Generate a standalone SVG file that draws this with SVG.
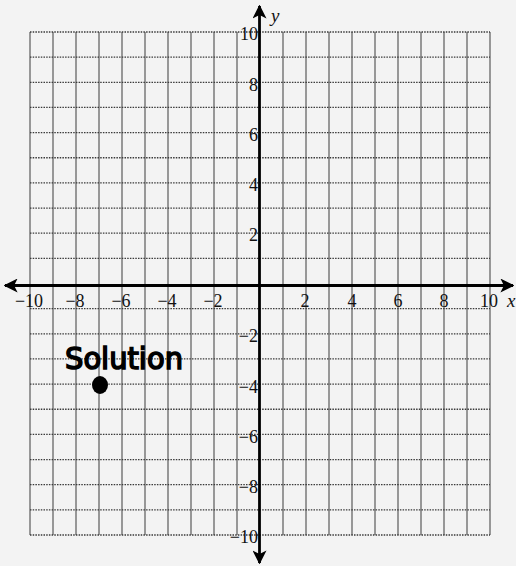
<svg xmlns="http://www.w3.org/2000/svg" width="516" height="566" viewBox="0 0 516 566">
<defs>
<style>
.vg{stroke:#5a5a5a;stroke-width:1.2;fill:none}
.hg{stroke:#3a3a3a;stroke-width:1.3;stroke-dasharray:1.5 1.2;fill:none}
.ax{stroke:#000;stroke-width:2.8;fill:none}
.lb{font-family:"Liberation Serif","Times New Roman",serif;font-size:18px;fill:#111}
.yl{text-anchor:end}
.xl{text-anchor:middle}
.var{font-family:"Liberation Serif","Times New Roman",serif;font-size:19px;font-style:italic;fill:#111}
</style>
<marker id="ah" viewBox="0 0 10 10" refX="9" refY="5" markerWidth="5" markerHeight="5" orient="auto" markerUnits="strokeWidth">
<path d="M0,0 L10,5 L0,10 L2.5,5 Z" fill="#000"/>
</marker>
</defs>
<rect width="516" height="566" fill="#f3f3f3"/>
<g id="grid">
<g id="vertical-lines" class="vg">
<line x1="30" y1="32" x2="30" y2="535"/><line x1="53" y1="32" x2="53" y2="535"/><line x1="76" y1="32" x2="76" y2="535"/><line x1="99" y1="32" x2="99" y2="535"/><line x1="122" y1="32" x2="122" y2="535"/><line x1="145" y1="32" x2="145" y2="535"/><line x1="168" y1="32" x2="168" y2="535"/><line x1="191" y1="32" x2="191" y2="535"/><line x1="214" y1="32" x2="214" y2="535"/><line x1="237" y1="32" x2="237" y2="535"/><line x1="283" y1="32" x2="283" y2="535"/><line x1="306" y1="32" x2="306" y2="535"/><line x1="329" y1="32" x2="329" y2="535"/><line x1="352" y1="32" x2="352" y2="535"/><line x1="375" y1="32" x2="375" y2="535"/><line x1="398" y1="32" x2="398" y2="535"/><line x1="421" y1="32" x2="421" y2="535"/><line x1="444" y1="32" x2="444" y2="535"/><line x1="467" y1="32" x2="467" y2="535"/><line x1="490" y1="32" x2="490" y2="535"/>
</g>
<g id="horizontal-lines" class="hg">
<line x1="30" y1="32" x2="490" y2="32"/><line x1="30" y1="57.15" x2="490" y2="57.15"/><line x1="30" y1="82.3" x2="490" y2="82.3"/><line x1="30" y1="107.45" x2="490" y2="107.45"/><line x1="30" y1="132.6" x2="490" y2="132.6"/><line x1="30" y1="157.75" x2="490" y2="157.75"/><line x1="30" y1="182.9" x2="490" y2="182.9"/><line x1="30" y1="208.05" x2="490" y2="208.05"/><line x1="30" y1="233.2" x2="490" y2="233.2"/><line x1="30" y1="258.35" x2="490" y2="258.35"/><line x1="30" y1="308.65" x2="490" y2="308.65"/><line x1="30" y1="333.8" x2="490" y2="333.8"/><line x1="30" y1="358.95" x2="490" y2="358.95"/><line x1="30" y1="384.1" x2="490" y2="384.1"/><line x1="30" y1="409.25" x2="490" y2="409.25"/><line x1="30" y1="434.4" x2="490" y2="434.4"/><line x1="30" y1="459.55" x2="490" y2="459.55"/><line x1="30" y1="484.7" x2="490" y2="484.7"/><line x1="30" y1="509.85" x2="490" y2="509.85"/><line x1="30" y1="535" x2="490" y2="535"/>
</g>
</g>
<g id="axes">
<line id="x-axis-left" class="ax" x1="260" y1="285.5" x2="5" y2="285.5" marker-end="url(#ah)"/>
<line id="x-axis-right" class="ax" x1="260" y1="285.5" x2="513" y2="285.5" marker-end="url(#ah)"/>
<line id="y-axis-up" class="ax" x1="259.5" y1="285.5" x2="259.5" y2="6" marker-end="url(#ah)"/>
<line id="y-axis-down" class="ax" x1="259.5" y1="285.5" x2="259.5" y2="563" marker-end="url(#ah)"/>
</g>
<g id="axis-names">
<text class="var" x="271" y="22">y</text>
<text class="var" x="507" y="307">x</text>
</g>
<g id="y-labels" class="lb yl">
<text x="258" y="40">10</text>
<text x="258" y="91">8</text>
<text x="258" y="141">6</text>
<text x="258" y="191">4</text>
<text x="258" y="241">2</text>
<text x="258" y="342">−2</text>
<text x="258" y="393">−4</text>
<text x="258" y="443">−6</text>
<text x="258" y="493">−8</text>
<text x="258" y="543">−10</text>
</g>
<g id="x-labels" class="lb xl">
<text x="29" y="307">−10</text>
<text x="75" y="307">−8</text>
<text x="121" y="307">−6</text>
<text x="167" y="307">−4</text>
<text x="213" y="307">−2</text>
<text x="305" y="307">2</text>
<text x="352" y="307">4</text>
<text x="398" y="307">6</text>
<text x="444" y="307">8</text>
<text x="489" y="307">10</text>
</g>
<g id="solution">
<text x="65" y="369" font-family="DejaVu Sans, sans-serif" font-size="30" fill="#000" stroke="#000" stroke-width="1.6" textLength="118" lengthAdjust="spacingAndGlyphs">Solution</text>
<ellipse cx="100" cy="385" rx="8" ry="9" fill="#000"/>
</g>
</svg>
